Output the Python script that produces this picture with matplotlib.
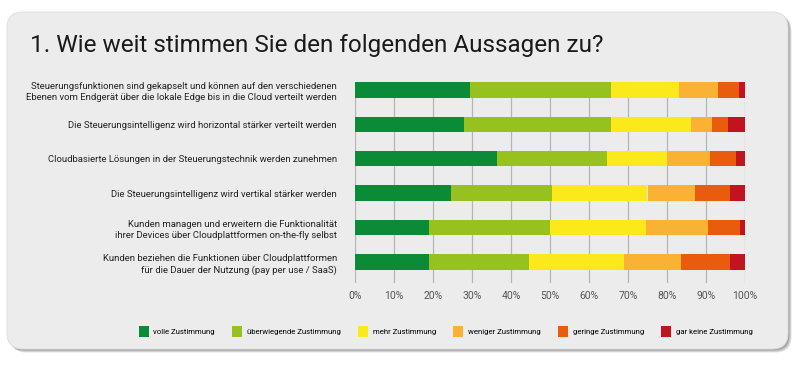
import matplotlib
matplotlib.use('Agg')
import matplotlib.pyplot as plt
from matplotlib import font_manager
from matplotlib.patches import FancyBboxPatch, Patch

# statements (top to bottom)
aussagen = [
    'Steuerungsfunktionen sind gekapselt und können auf den verschiedenen\nEbenen vom Endgerät über die lokale Edge bis in die Cloud verteilt werden',
    'Die Steuerungsintelligenz wird horizontal stärker verteilt werden',
    'Cloudbasierte Lösungen in der Steuerungstechnik werden zunehmen',
    'Die Steuerungsintelligenz wird vertikal stärker werden',
    'Kunden managen und erweitern die Funktionalität\nihrer Devices über Cloudplattformen on-the-fly selbst',
    'Kunden beziehen die Funktionen über Cloudplattformen\nfür die Dauer der Nutzung (pay per use / SaaS)',
]

kategorien = ['volle Zustimmung', 'überwiegende Zustimmung', 'mehr Zustimmung',
              'weniger Zustimmung', 'geringe Zustimmung', 'gar keine Zustimmung']

# shares in percent, one list per answer category
volle = [29.5, 28.0, 36.5, 24.5, 19.0, 19.0]
ueberwiegende = [36.1, 37.6, 28.0, 26.0, 31.0, 25.5]
mehr = [17.5, 20.5, 15.5, 24.5, 24.6, 24.6]
weniger = [10.0, 5.5, 11.0, 12.1, 15.9, 14.5]
geringe = [5.4, 4.0, 6.6, 9.1, 8.1, 12.6]
gar_keine = [1.5, 4.4, 2.4, 3.8, 1.4, 3.8]

farben = ['#0b8b37', '#97c11f', '#fbe91b', '#f9b234', '#ea5c0d', '#c1141f']

xticks = [0, 10, 20, 30, 40, 50, 60, 70, 80, 90, 100]

# no condensed face installed, so plain Roboto a bit smaller
label_prop = font_manager.FontProperties(family='Roboto', size=6.8)
legend_prop = font_manager.FontProperties(family='Roboto', size=5.6)

plt.rcParams['font.family'] = ['Roboto', 'DejaVu Sans']

fig = plt.figure(figsize=(8, 3.67), dpi=100)
fig.patch.set_facecolor('white')

# rounded panel with shadow
for dx, dy, a in [(0.035, -0.035, 0.25), (0.025, -0.025, 0.35), (0.015, -0.015, 0.45)]:
    fig.patches.append(FancyBboxPatch((0.07 + dx, 0.18 + dy), 7.81, 3.37,
                                      boxstyle='round,pad=0,rounding_size=0.16',
                                      transform=fig.dpi_scale_trans, fc='#8a8a8a',
                                      ec='none', alpha=a, zorder=-3))
fig.patches.append(FancyBboxPatch((0.07, 0.18), 7.81, 3.37,
                                  boxstyle='round,pad=0,rounding_size=0.16',
                                  transform=fig.dpi_scale_trans, fc='#ececec',
                                  ec='#dcdcdc', lw=0.6, zorder=-2))

fig.text(0.0375, 0.877, '1. Wie weit stimmen Sie den folgenden Aussagen zu?',
         fontsize=17.5, color='#1a1a1a', va='center', ha='left')

ax = fig.add_axes([0.44375, 0.2289, 0.4875, 0.5477])
ax.set_facecolor('none')

serien = [volle, ueberwiegende, mehr, weniger, geringe, gar_keine]
y = list(range(len(aussagen)))
links = [0.0] * len(aussagen)
for werte, farbe, name in zip(serien, farben, kategorien):
    ax.barh(y, werte, left=links, height=0.45, color=farbe, label=name, zorder=2)
    links = [l + w for l, w in zip(links, werte)]

ax.set_xlim(0, 100)
ax.set_ylim(5.61, -0.23)
ax.set_xticks(xticks)
ax.set_xticklabels([f'{t}%' for t in xticks])
ax.set_yticks(y)
ax.set_yticklabels(aussagen, fontproperties=label_prop, color='#222222',
                   linespacing=1.35)
ax.tick_params(axis='y', length=0, pad=13)
ax.tick_params(axis='x', length=0, pad=6, labelsize=7.5, labelcolor='#555555')
ax.grid(axis='x', color='#b5b5b5', lw=0.9)
ax.set_axisbelow(True)
for s in ax.spines.values():
    s.set_visible(False)

handles = [Patch(fc=c, ec='none') for c in farben]
fig.legend(handles, kategorien, loc='center', bbox_to_anchor=(0.557, 0.098),
           ncol=6, frameon=False, handlelength=1.3, handleheight=1.8,
           columnspacing=2.2, handletextpad=0.6, prop=legend_prop)

fig.savefig('out.png', dpi=100, facecolor='white')
